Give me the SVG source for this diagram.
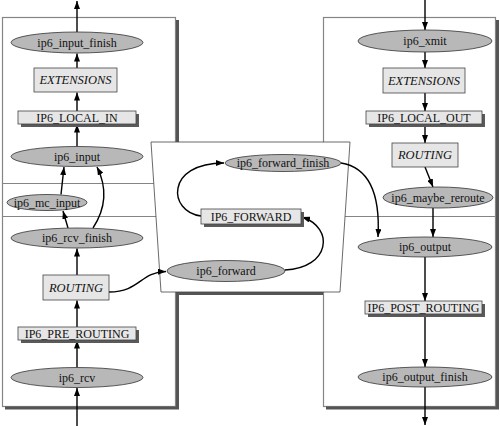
<svg xmlns="http://www.w3.org/2000/svg" width="500" height="426" viewBox="0 0 500 426">
<style>
text{font-family:"Liberation Serif","Times New Roman",serif;font-size:12px;fill:#111;text-anchor:middle;dominant-baseline:central}
.it{font-style:italic;font-size:12.5px}
.cap{font-size:12px}
.ell{fill:#b8b8b8;stroke:#333;stroke-width:0.8}
.box{fill:#e6e6e6;stroke:#444;stroke-width:0.8}
.sh{fill:#5a5a5a}
.panel{fill:#fff;stroke:#858585;stroke-width:1.2}
.pshadow{stroke:#555;stroke-width:3;fill:none}
.div{stroke:#858585;stroke-width:1.2}
.c{fill:none;stroke:#000;stroke-width:1.4;marker-end:url(#ah)}
</style>
<defs>
<marker id="ah" viewBox="0 0 8 6" refX="8" refY="3" markerWidth="8" markerHeight="6" markerUnits="userSpaceOnUse" orient="auto">
<path d="M0,0 L8,3 L0,6 z" fill="#000"/>
</marker>
</defs>
<g id="panels">
<rect class="panel" x="2.5" y="17.5" width="173" height="389"/>
<path class="pshadow" d="M177.5,20 V408 H5"/>
<rect class="panel" x="323.5" y="17.5" width="172" height="389"/>
<path class="pshadow" d="M497.5,20 V408 H326"/>
<line class="div" x1="2.5" y1="183.5" x2="175.5" y2="183.5"/>
<line class="div" x1="2.5" y1="216.5" x2="175.5" y2="216.5"/>
<line class="div" x1="323.5" y1="216.5" x2="495.5" y2="216.5"/>
<line x1="176" y1="293.5" x2="323" y2="293.5" stroke="#555" stroke-width="3"/>
<polygon points="151,142 350,142 340,292 161,292" fill="#fff" stroke="#444" stroke-width="0.8"/>
</g>
<g id="connectors">
<path class="c" d="M77,32 L77,1"/>
<path class="c" d="M77,68 L77,53.5"/>
<path class="c" d="M77,111 L77,92.5"/>
<path class="c" d="M77,146.5 L77,124.5"/>
<path class="c" d="M61,194.5 L64,167"/>
<path class="c" d="M68,228 L63,211"/>
<path class="c" d="M93,228 C108,205 106,185 97,167"/>
<path class="c" d="M77,275 L77,248.5"/>
<path class="c" d="M77,327 L77,300.5"/>
<path class="c" d="M77,367.5 L77,340.5"/>
<path class="c" d="M77,426 L77,388"/>
<path class="c" d="M109,292 C140,292 140,272 166,271.5"/>
<path class="c" d="M201,216 C168,212 165,163 224,163"/>
<path class="c" d="M285,270 C330,268 335,228 302,217"/>
<path class="c" d="M341,163 C372,168 380,200 378,237"/>
<path class="c" d="M425,0 L425,30"/>
<path class="c" d="M425,52 L425,68"/>
<path class="c" d="M425,93 L425,111"/>
<path class="c" d="M425,124.5 L425,143"/>
<path class="c" d="M425,167 L433,187"/>
<path class="c" d="M433,208 L433,237"/>
<path class="c" d="M425,257 L425,301"/>
<path class="c" d="M425,314 L425,367"/>
<path class="c" d="M425,387 L425,425"/>
</g>
<g id="ip6_input_finish"><ellipse class="ell" cx="77" cy="42.5" rx="66" ry="10.5"/><text x="77" y="42.5">ip6_input_finish</text></g>
<g id="extensions_in"><rect class="box" x="34" y="68" width="83" height="24"/><text class="it" x="75.5" y="80">EXTENSIONS</text></g>
<g id="ip6_local_in"><rect class="sh" x="21" y="114" width="118" height="13"/><rect class="box" x="18" y="111" width="118" height="13"/><text class="cap" x="77" y="117.5">IP6_LOCAL_IN</text></g>
<g id="ip6_input"><ellipse class="ell" cx="77" cy="156.5" rx="66" ry="10"/><text x="77" y="156.5">ip6_input</text></g>
<g id="ip6_mc_input"><ellipse class="ell" cx="47" cy="202.5" rx="40" ry="8"/><text x="47" y="202.5">ip6_mc_input</text></g>
<g id="ip6_rcv_finish"><ellipse class="ell" cx="77" cy="238" rx="66" ry="10"/><text x="77" y="238">ip6_rcv_finish</text></g>
<g id="routing_in"><rect class="box" x="43" y="275" width="66" height="25"/><text class="it" x="76" y="287.5">ROUTING</text></g>
<g id="ip6_pre_routing"><rect class="sh" x="21" y="330" width="118" height="13"/><rect class="box" x="18" y="327" width="118" height="13"/><text class="cap" x="77" y="333.5">IP6_PRE_ROUTING</text></g>
<g id="ip6_rcv"><ellipse class="ell" cx="77" cy="377.5" rx="66" ry="10"/><text x="77" y="377.5">ip6_rcv</text></g>
<g id="ip6_forward_finish"><ellipse class="ell" cx="283" cy="163" rx="58" ry="8.5"/><text x="283" y="163">ip6_forward_finish</text></g>
<g id="ip6_forward_hook"><rect class="sh" x="204" y="212" width="100" height="15"/><rect class="box" x="201" y="209" width="100" height="15"/><text class="cap" x="251" y="216.5">IP6_FORWARD</text></g>
<g id="ip6_forward"><ellipse class="ell" cx="226" cy="271" rx="59" ry="10.5"/><text x="226" y="271">ip6_forward</text></g>
<g id="ip6_xmit"><ellipse class="ell" cx="425" cy="41" rx="67" ry="11"/><text x="425" y="41">ip6_xmit</text></g>
<g id="extensions_out"><rect class="box" x="383" y="68" width="82" height="25"/><text class="it" x="424" y="80.5">EXTENSIONS</text></g>
<g id="ip6_local_out"><rect class="sh" x="369" y="114" width="116" height="13"/><rect class="box" x="366" y="111" width="116" height="13"/><text class="cap" x="424" y="117.5">IP6_LOCAL_OUT</text></g>
<g id="routing_out"><rect class="box" x="392" y="143" width="66" height="24"/><text class="it" x="425" y="155">ROUTING</text></g>
<g id="ip6_maybe_reroute"><ellipse class="ell" cx="438" cy="197.5" rx="55" ry="10.5"/><text x="438" y="197.5">ip6_maybe_reroute</text></g>
<g id="ip6_output"><ellipse class="ell" cx="425" cy="247" rx="67" ry="10"/><text x="425" y="247">ip6_output</text></g>
<g id="ip6_post_routing"><rect class="sh" x="368" y="304" width="117" height="13"/><rect class="box" x="365" y="301" width="117" height="13"/><text class="cap" x="423.5" y="307.5">IP6_POST_ROUTING</text></g>
<g id="ip6_output_finish"><ellipse class="ell" cx="425" cy="377" rx="67" ry="10"/><text x="425" y="377">ip6_output_finish</text></g>
</svg>
